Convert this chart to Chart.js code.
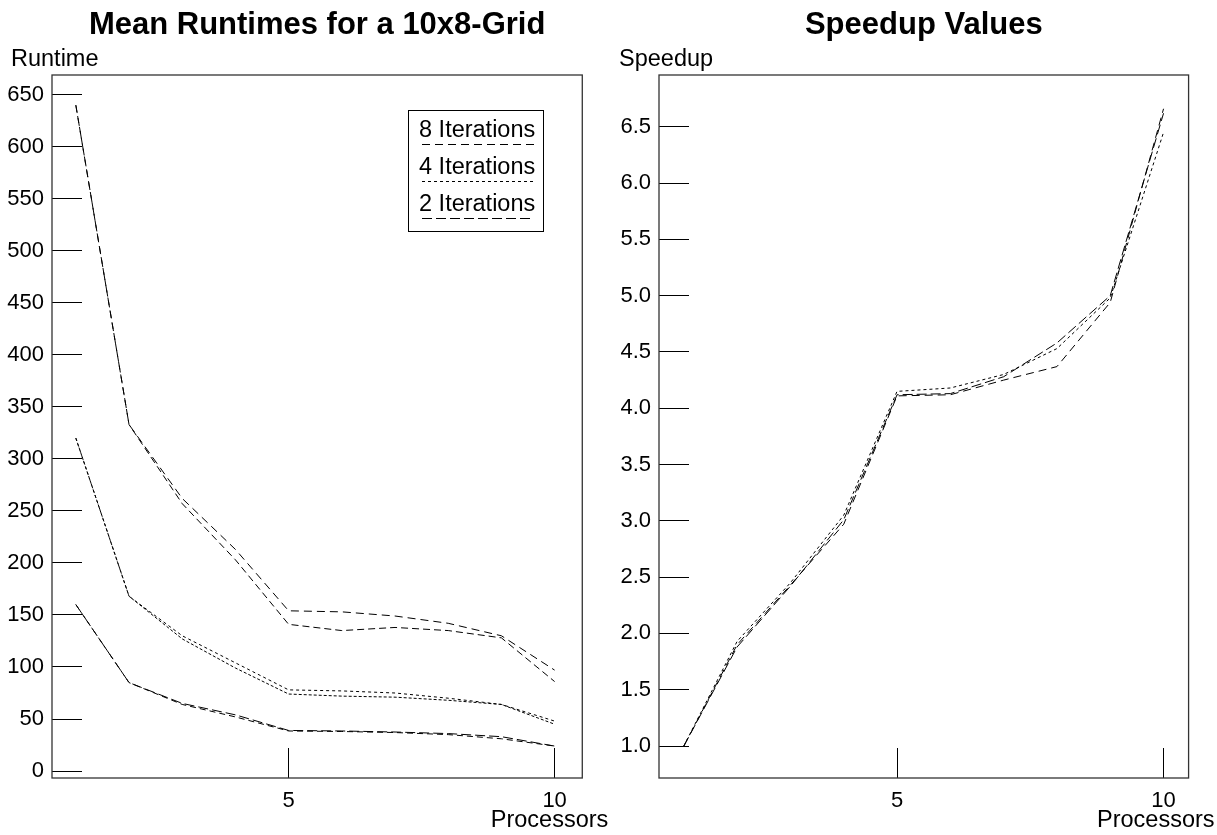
<!DOCTYPE html>
<html>
<head>
<meta charset="utf-8">
<script src="https://cdn.jsdelivr.net/npm/chart.js@4.4.1/dist/chart.umd.min.js"></script>
<style>
html,body{margin:0;padding:0;background:#fff;}
#wrap{position:relative;width:1217px;height:835px;overflow:hidden;}
canvas{position:absolute;top:0;}
</style>
</head>
<body>
<div id="wrap">
<canvas id="c1" width="608" height="835" style="left:0"></canvas>
<canvas id="c2" width="609" height="835" style="left:608px"></canvas>
</div>
<script>
// ---- data ----
const processors = [1, 2, 3, 4, 5, 6, 7, 8, 9, 10];
const runtime8a = [640, 333, 262, 213, 154, 153, 149, 142, 130, 97];
const runtime8b = [640, 333, 257, 203, 141, 135, 138, 135, 128, 86];
const runtime4a = [320, 168, 130, 104, 78, 77, 75, 70, 64, 48];
const runtime4b = [320, 168, 127, 99, 74, 72, 71, 68, 64, 45];
const runtime2a = [160, 85, 65, 54, 39, 38.5, 37.5, 36, 33, 24];
const runtime2b = [160, 85, 64, 52, 38.5, 38, 37, 35, 31, 24];
const speedup8 = [1, 1.90, 2.43, 2.97, 4.11, 4.12, 4.25, 4.37, 4.94, 6.66];
const speedup4 = [1, 1.93, 2.45, 3.05, 4.15, 4.18, 4.30, 4.53, 4.98, 6.45];
const speedup2 = [1, 1.88, 2.42, 3.01, 4.12, 4.13, 4.28, 4.58, 5.00, 6.62];
const legendLabels = ['8 Iterations', '4 Iterations', '2 Iterations'];
const xTickValues = [5, 10];
const runtimeTickValues = [0, 50, 100, 150, 200, 250, 300, 350, 400, 450, 500, 550, 600, 650];
const speedupTickValues = [1.0, 1.5, 2.0, 2.5, 3.0, 3.5, 4.0, 4.5, 5.0, 5.5, 6.0, 6.5];

const FONT = "'Liberation Sans', Arial, Helvetica, sans-serif";
const DASH8 = [8, 5], DASH4 = [3, 3], DASH2 = [10, 4];

function pts(ys) { return processors.map((x, i) => ({x: x, y: ys[i]})); }
function ds(label, ys, dash, inLegend) {
  return {label: label, data: pts(ys), borderColor: '#000', borderWidth: 1, borderDash: dash,
          pointRadius: 0, tension: 0, fill: false, inLegend: inLegend};
}

const framePlugin = {
  id: 'frame',
  afterDraw(chart) {
    const a = chart.chartArea, ctx = chart.ctx;
    ctx.save();
    ctx.strokeStyle = '#333';
    ctx.lineWidth = 1.3;
    ctx.strokeRect(a.left, a.top, a.right - a.left, a.bottom - a.top);
    ctx.restore();
  }
};

function textPlugin(title, yTitle) {
  return {
    id: 'texts',
    afterDraw(chart) {
      const a = chart.chartArea, ctx = chart.ctx;
      ctx.save();
      ctx.fillStyle = '#000';
      ctx.textBaseline = 'middle';
      ctx.font = 'bold 31px ' + FONT;
      ctx.textAlign = 'center';
      ctx.fillText(title, (a.left + a.right) / 2, 25);
      ctx.font = '23.5px ' + FONT;
      ctx.textAlign = 'left';
      ctx.fillText(yTitle, 11, 60);
      ctx.textAlign = 'right';
      ctx.fillText('Processors', a.right + 26, 821);
      ctx.restore();
    }
  };
}

const legendPlugin = {
  id: 'boxLegend',
  afterDraw(chart) {
    const ctx = chart.ctx;
    const items = chart.data.datasets.filter(d => d.inLegend);
    const bx = 408, by = 110, bw = 135, bh = 121;
    ctx.save();
    ctx.strokeStyle = '#000';
    ctx.lineWidth = 1;
    ctx.strokeRect(bx + 0.5, by + 0.5, bw, bh);
    ctx.font = '23.5px ' + FONT;
    ctx.fillStyle = '#000';
    ctx.textAlign = 'left';
    ctx.textBaseline = 'middle';
    items.forEach((d, i) => {
      const ty = by + 21 + i * 37;
      ctx.fillText(d.label, bx + 11, ty);
      ctx.setLineDash(d.borderDash);
      ctx.beginPath();
      ctx.moveTo(bx + 14, ty + 13.5);
      ctx.lineTo(bx + 126, ty + 13.5);
      ctx.stroke();
    });
    ctx.restore();
  }
};

function axisOpts(min, max, tickVals, fitKey, fitVal, pad, fmt) {
  return {
    type: 'linear', min: min, max: max,
    afterBuildTicks(s) { s.ticks = tickVals.map(v => ({value: v})); },
    afterFit(s) { s[fitKey] = fitVal; },
    grid: {drawOnChartArea: false, drawTicks: true, tickLength: -30, color: '#000', lineWidth: 1},
    border: {display: false},
    ticks: {padding: pad, color: '#000', font: {family: FONT, size: 22}, autoSkip: false,
            maxRotation: 0, callback: fmt}
  };
}

new Chart(document.getElementById('c1'), {
  type: 'line',
  data: {datasets: [
    ds(legendLabels[0], runtime8a, DASH8, true),
    ds(legendLabels[0] + ' b', runtime8b, [7, 4], false),
    ds(legendLabels[1], runtime4a, DASH4, true),
    ds(legendLabels[1] + ' b', runtime4b, [3, 2], false),
    ds(legendLabels[2], runtime2a, DASH2, true),
    ds(legendLabels[2] + ' b', runtime2b, [6, 4], false)
  ]},
  options: {
    responsive: false, animation: false, events: [],
    layout: {padding: {top: 75, right: 22, left: 0, bottom: 0}},
    plugins: {legend: {display: false}, title: {display: false}, tooltip: {enabled: false}},
    scales: {
      x: axisOpts(0.552, 10.52, xTickValues, 'height', 57, 40, v => String(v)),
      y: axisOpts(-6.7, 669, runtimeTickValues, 'width', 52, 38, v => String(v))
    }
  },
  plugins: [framePlugin, textPlugin('Mean Runtimes for a 10x8-Grid', 'Runtime'), legendPlugin]
});

new Chart(document.getElementById('c2'), {
  type: 'line',
  data: {datasets: [
    ds(legendLabels[0], speedup8, DASH8, true),
    ds(legendLabels[1], speedup4, DASH4, true),
    ds(legendLabels[2], speedup2, DASH2, true)
  ]},
  options: {
    responsive: false, animation: false, events: [],
    layout: {padding: {top: 75, right: 26, left: 0, bottom: 0}},
    plugins: {legend: {display: false}, title: {display: false}, tooltip: {enabled: false}},
    scales: {
      x: axisOpts(0.534, 10.47, xTickValues, 'height', 57, 40, v => String(v)),
      y: axisOpts(0.716, 6.96, speedupTickValues, 'width', 51, 38, v => Number(v).toFixed(1))
    }
  },
  plugins: [framePlugin, textPlugin('Speedup Values', 'Speedup')]
});
</script>
</body>
</html>
